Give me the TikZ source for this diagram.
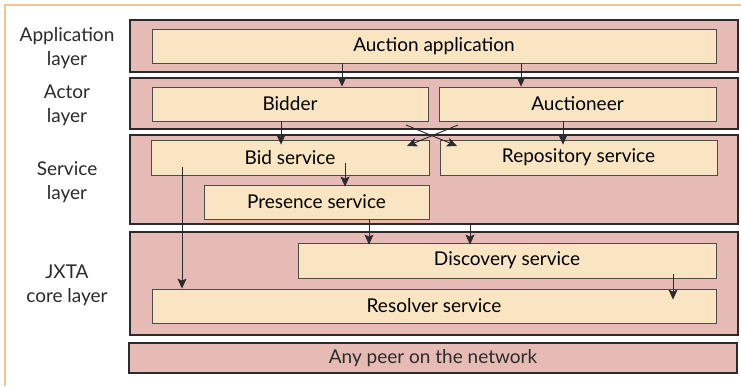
\documentclass[tikz,border=0pt]{standalone}
\usepackage{fontspec}
\setmainfont{Lato}
\usepackage{xcolor}
\usepackage{tikz}
\usetikzlibrary{arrows.meta,positioning}
\definecolor{cpink}{HTML}{E7BBB5}
\definecolor{ccream}{HTML}{FAE5C2}
\definecolor{cframe}{HTML}{F2C58A}
\definecolor{cink}{HTML}{2B2B2B}
\tikzset{>={Stealth[length=10pt,width=9pt,inset=2pt]},
  band/.style={draw=cink,fill=cpink,line width=1.1pt,inner sep=0pt},
  svc/.style={draw=cink!85,fill=ccream,line width=0.8pt,inner sep=0pt},
  lyr/.style={align=center,text=cink},
  arr/.style={->,cink,line width=0.9pt},
}

\begin{document}
\begin{tikzpicture}[x=1pt,y=-1pt,font=\fontsize{19}{24}\selectfont]
  \useasboundingbox (0,0) rectangle (741,386);
  % outer frame, cut by the page edge
  \draw[cframe,line width=1.2pt] (741,5) -- (5,5) -- (5,386);

  % layers
  \node[band,minimum width=608,minimum height=52] (applayer) at (434,46) {};
  \node[band,minimum width=608,minimum height=51] (actlayer) at (434,103.5) {};
  \node[band,minimum width=608,minimum height=89] (svclayer) at (434,179.5) {};
  \node[band,minimum width=608,minimum height=103] (jxtalayer) at (434,283.5) {};
  \node[band,minimum width=608,minimum height=30,text=cink] (peer) at (433,358) {Any peer on the network};

  \node[lyr] (applab) at (67,48) {Application\\layer};
  \node[lyr] (actlab) at (67,105) {Actor\\layer};
  \node[lyr] (svclab) at (67,182) {Service\\layer};
  \node[lyr] (jxtalab) at (67,285) {JXTA\\core layer};

  % components
  \node[svc,minimum width=564,minimum height=34] (app) at (434,46) {Auction application};
  \node[svc,minimum width=276,minimum height=34] (bidder) at (290,104) {Bidder};
  \node[svc,minimum width=277,minimum height=34] (auct) at (577.5,104) {Auctioneer};
  \node[svc,minimum width=278,minimum height=35] (bid) at (290,157.5) {Bid service};
  \node[svc,minimum width=277,minimum height=35] (repo) at (578.5,157.5) {Repository service};
  \node[svc,minimum width=225,minimum height=34] (pres) at (316.5,202) {Presence service};
  \node[svc,minimum width=418,minimum height=35] (disc) at (507,260.5) {Discovery service};
  \node[svc,minimum width=564,minimum height=34] (resolv) at (434,306) {Resolver service};

  \coordinate (xa) at (406,125);
  \coordinate (xb) at (457,146);
  \coordinate (xc) at (458,125);
  \coordinate (xd) at (407,146);

  \draw[arr] (app.south -| 342,0) -- (bidder.north -| 342,0);
  \draw[arr] (app.south -| 521,0) -- (auct.north -| 521,0);
  \draw[arr,shorten >=-5pt] (bidder.south -| 281,0) -- (bid.north -| 281,0);
  \draw[arr,shorten >=-5pt] (auct.south -| 563,0) -- (repo.north -| 563,0);
  \draw[arr] (xa) -- (xb);
  \draw[arr] (xc) -- (xd);
  \draw[arr,shorten <=-12pt,shorten >=-2pt] (bid.south -| 345,0) -- (pres.north -| 345,0);
  \draw[arr,shorten <=-8pt] (bid.south -| 182,0) -- (resolv.north -| 182,0);
  \draw[arr,shorten >=-2pt] (pres.south -| 369,0) -- (disc.north -| 369,0);
  \draw[arr,shorten >=-2pt] (svclayer.south -| 470,0) -- (disc.north -| 470,0);
  \draw[arr,shorten <=-4pt,shorten >=-11pt] (disc.south -| 673,0) -- (resolv.north -| 673,0);
\end{tikzpicture}
\end{document}
